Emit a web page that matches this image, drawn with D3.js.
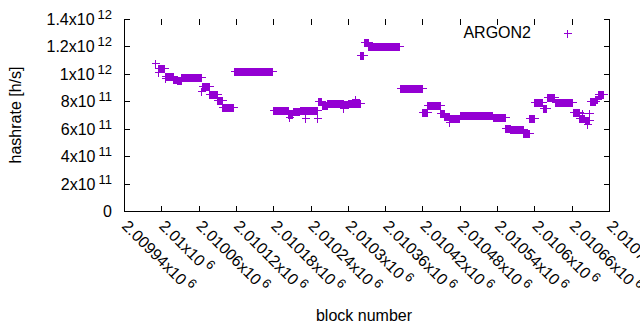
<!DOCTYPE html>
<html>
<head>
<meta charset="utf-8">
<script src="https://cdn.jsdelivr.net/npm/d3@7"></script>
<style>
  body { margin: 0; background: #fff; }
  svg text { font-family: "Liberation Sans", Arial, sans-serif; fill: #000; }
</style>
</head>
<body>
<div id="chart"></div>
<script>
// data: runs of blocks with the same hashrate (h/s)
var runStart = [2009995, 2010006, 2010019, 2010025, 2010032, 2010065, 2010077, 2010090, 2010098, 2010117,
                2010179, 2010204, 2010211, 2010223, 2010252, 2010258, 2010267, 2010293, 2010301, 2010320,
                2010326, 2010333, 2010384, 2010420, 2010428, 2010449, 2010455, 2010464, 2010480, 2010533,
                2010553, 2010561, 2010574, 2010582, 2010592, 2010600, 2010614, 2010620, 2010633, 2010662,
                2010672, 2010681, 2010689, 2010698, 2010702];
var runEnd   = [2010005, 2010018, 2010024, 2010031, 2010064, 2010076, 2010089, 2010097, 2010116, 2010178,
                2010203, 2010210, 2010222, 2010251, 2010257, 2010266, 2010292, 2010300, 2010319, 2010325,
                2010332, 2010383, 2010419, 2010427, 2010448, 2010454, 2010463, 2010479, 2010532, 2010552,
                2010560, 2010573, 2010581, 2010591, 2010599, 2010613, 2010619, 2010632, 2010661, 2010671,
                2010680, 2010688, 2010697, 2010701, 2010711];
var runValue = [1.04e12, 0.987e12, 0.965e12, 0.952e12, 0.977e12, 0.909e12, 0.851e12, 0.807e12, 0.761e12, 1.02e12,
                0.734e12, 0.705e12, 0.73e12, 0.734e12, 0.799e12, 0.77e12, 0.79e12, 0.78e12, 0.785e12, 1.1375e12,
                1.235e12, 1.203e12, 0.895e12, 0.724e12, 0.773e12, 0.714e12, 0.69e12, 0.676e12, 0.699e12, 0.688e12,
                0.603e12, 0.595e12, 0.60e12, 0.57e12, 0.676e12, 0.794e12, 0.753e12, 0.833e12, 0.794e12, 0.72e12,
                0.68e12, 0.665e12, 0.80e12, 0.82e12, 0.851e12];

// single blocks off their run
var looseBlock = [2009990, 2009994, 2010006, 2010064, 2010206, 2010231, 2010250, 2010292, 2010311, 2010463, 2010676, 2010685, 2010688];
var looseValue = [1.077e12, 1.016e12, 0.972e12, 0.875e12, 0.688e12, 0.68e12, 0.68e12, 0.75e12, 0.814e12, 0.651e12, 0.715e12, 0.632e12, 0.713e12];

var xTicks = [2009940, 2010000, 2010060, 2010120, 2010180, 2010240, 2010300,
              2010360, 2010420, 2010480, 2010540, 2010600, 2010660, 2010720];
var xTickLabels = ["2.00994x10^6", "2.01x10^6", "2.01006x10^6", "2.01012x10^6", "2.01018x10^6", "2.01024x10^6", "2.0103x10^6",
                   "2.01036x10^6", "2.01042x10^6", "2.01048x10^6", "2.01054x10^6", "2.0106x10^6", "2.01066x10^6", "2.01072x10^6"];
var yTicks = [0, 2e11, 4e11, 6e11, 8e11, 1e12, 1.2e12, 1.4e12];
var yTickLabels = ["0", "2x10^11", "4x10^11", "6x10^11", "8x10^11", "1x10^12", "1.2x10^12", "1.4x10^12"];

var seriesName = "ARGON2";

// layout
var width = 640, height = 330;
var plot = {left: 124, right: 609, top: 19, bottom: 211};
var color = "#9400d3";
var fontSize = 16;

var x = d3.scaleLinear().domain([2009940, 2010720]).range([plot.left, plot.right]);
var y = d3.scaleLinear().domain([0, 1.4e12]).range([plot.bottom, plot.top]);

var svg = d3.select("#chart").append("svg")
    .attr("width", width)
    .attr("height", height);

// expand runs into one point per block
var points = [];
runStart.forEach(function(s, i) {
    for (var b = s; b <= runEnd[i]; b++) points.push({block: b, value: runValue[i]});
});
looseBlock.forEach(function(b, i) { points.push({block: b, value: looseValue[i]}); });

function plus(cx, cy) {
    cx = Math.round(cx) + 0.5; cy = Math.round(cy) + 0.5;
    return "M" + (cx - 4) + "," + cy + "h8M" + cx + "," + (cy - 4) + "v8";
}

function label(sel, str, sup) {
    var parts = str.split("^");
    sel.append("tspan").text(parts[0]);
    if (parts.length > 1) {
        sel.append("tspan")
            .attr("dx", 3)
            .attr("dy", -6)
            .style("font-size", sup + "px")
            .text(parts[1]);
    }
}

// border: left, bottom, right (no top line)
svg.append("path")
    .attr("d", "M" + (plot.left + 0.5) + "," + plot.top + "V" + (plot.bottom + 0.5) +
               "H" + (plot.right + 0.5) + "V" + plot.top)
    .attr("fill", "none")
    .attr("stroke", "#000")
    .style("shape-rendering", "crispEdges");

// y ticks (both sides, inward)
var yt = svg.append("g").attr("id", "yaxis");
yTicks.forEach(function(v, i) {
    var py = Math.round(y(v)) + 0.5;
    if (i > 0) {
        yt.append("path")
            .attr("d", "M" + plot.left + "," + py + "h6M" + (plot.right + 1) + "," + py + "h-6")
            .attr("stroke", "#000")
            .style("shape-rendering", "crispEdges");
    }
    var t = yt.append("text")
        .attr("x", 112)
        .attr("y", y(v) + 6)
        .attr("text-anchor", "end")
        .style("font-size", fontSize + "px");
    label(t, yTickLabels[i], 13);
});

// x ticks (bottom and mirrored top, inward)
var xt = svg.append("g").attr("id", "xaxis");
xTicks.forEach(function(v, i) {
    var px = Math.round(x(v)) + 0.5;
    if (i > 0 && i < xTicks.length - 1) {
        xt.append("path")
            .attr("d", "M" + px + "," + (plot.bottom + 1) + "v-6M" + px + "," + plot.top + "v6")
            .attr("stroke", "#000")
            .style("shape-rendering", "crispEdges");
    }
    var t = xt.append("text")
        .attr("transform", "translate(" + (x(v) - 3) + "," + (plot.bottom + 16) + ") rotate(45)")
        .attr("text-anchor", "start")
        .style("font-size", fontSize + "px");
    label(t, xTickLabels[i], 13);
});

// points
svg.append("g")
    .attr("id", "points")
    .selectAll("path")
    .data(points)
    .join("path")
    .attr("d", function(d) { return plus(x(d.block), y(d.value)); })
    .attr("stroke", color)
    .attr("stroke-width", 1)
    .attr("fill", "none")
    .style("shape-rendering", "crispEdges");

// legend
svg.append("text")
    .attr("x", 531)
    .attr("y", 38)
    .attr("text-anchor", "end")
    .style("font-size", fontSize + "px")
    .text(seriesName);
svg.append("path")
    .attr("d", plus(567, 32.7))
    .attr("stroke", color)
    .style("shape-rendering", "crispEdges");

// axis titles
svg.append("text")
    .attr("transform", "translate(21," + ((plot.top + plot.bottom) / 2) + ") rotate(-90)")
    .attr("text-anchor", "middle")
    .style("font-size", fontSize + "px")
    .text("hashrate [h/s]");

svg.append("text")
    .attr("x", 364)
    .attr("y", 321)
    .attr("text-anchor", "middle")
    .style("font-size", fontSize + "px")
    .text("block number");
</script>
</body>
</html>
